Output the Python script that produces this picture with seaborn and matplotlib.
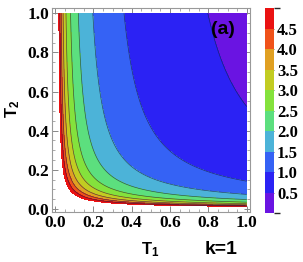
import numpy as np
import matplotlib
matplotlib.use("Agg")
import matplotlib.pyplot as plt
import seaborn as sns
from matplotlib.colors import ListedColormap, BoundaryNorm

# ---- data ----
levels = [0.0, 0.5, 1.0, 1.5, 2.0, 2.5, 3.0, 3.5, 4.0, 4.5, 5.0]
band_colors = ["#6a14e2", "#2b22f4", "#3562f5", "#4cb3d8", "#5cdf7e",
               "#84e23c", "#c2cc22", "#e0a022", "#f0521a", "#ea1212"]
x_ticks = [0.0, 0.2, 0.4, 0.6, 0.8, 1.0]
y_ticks = [0.0, 0.2, 0.4, 0.6, 0.8, 1.0]
cbar_ticks = [0.5, 1.0, 1.5, 2.0, 2.5, 3.0, 3.5, 4.0, 4.5]
off_d, amp_c, exp_t1, amp_e, exp_t2 = -0.835, 1.219, 0.4, 0.152, 0.75

sns.set_theme(style="ticks")
plt.rcParams["font.family"] = ["Liberation Serif", "DejaVu Serif"]
plt.rcParams["text.color"] = "black"
plt.rcParams["mathtext.fontset"] = "custom"
plt.rcParams["mathtext.bf"] = "Liberation Sans:bold"
plt.rcParams["mathtext.rm"] = "Liberation Sans:bold"
plt.rcParams["mathtext.it"] = "Liberation Sans:bold"

t1 = np.unique(np.concatenate([np.geomspace(0.002, 0.12, 300), np.linspace(0.12, 1.0, 400)]))
t2 = np.unique(np.concatenate([np.geomspace(0.002, 0.12, 300), np.linspace(0.12, 1.0, 400)]))
T1, T2 = np.meshgrid(t1, t2)
F = off_d + amp_c * T1 ** (-exp_t1) * (1 + amp_e * (T2 ** (-exp_t2) - 1))

fig = plt.figure(figsize=(3.03, 2.62), dpi=100)
ax = fig.add_axes([0.1716, 0.1897, 0.6535, 0.7786])
cax = fig.add_axes([0.8746, 0.1859, 0.0307, 0.7824])

cmap = ListedColormap(band_colors)
norm = BoundaryNorm(levels, cmap.N)
cs = ax.contourf(T1, T2, F, levels=levels, cmap=cmap, norm=norm)
ax.contour(T1, T2, F, levels=levels[1:-1], colors="#1a1a40", linewidths=0.5, alpha=0.7)

ax.set_xlim(-0.016, 1.017)
ax.set_ylim(-0.017, 1.025)
ax.set_xticks(x_ticks)
ax.set_yticks(y_ticks)
ax.set_xticklabels([f"{v:.1f}" for v in x_ticks], fontweight="bold", fontsize=12.5)
ax.set_yticklabels([f"{v:.1f}" for v in y_ticks], fontweight="bold", fontsize=12.5)
ax.set_xticks(np.arange(0, 1.0001, 0.05), minor=True)
ax.set_yticks(np.arange(0, 1.0001, 0.05), minor=True)
ax.tick_params(which="both", direction="in", top=True, right=True, color="#888888",
               labelcolor="black", pad=2)
ax.tick_params(which="major", length=4, width=0.7)
ax.tick_params(which="minor", length=2, width=0.5)
for sp in ax.spines.values():
    sp.set_color("#999999")
    sp.set_linewidth(0.8)

sans = ["Liberation Sans", "DejaVu Sans"]
ax.set_xlabel("")
ax.set_ylabel("")
fig.text(150 / 303, 1 - 250 / 262, r"$\mathbf{T_1}$", ha="center", va="center",
         fontsize=12, family=sans, color="black")
fig.text(13 / 303, 1 - 109 / 262, r"$\mathbf{T_2}$", ha="center", va="center",
         rotation=90, fontsize=12, family=sans, color="black")
fig.text(221 / 303, 1 - 250 / 262, "k=1", ha="center", va="center",
         fontsize=14, fontweight="bold", family=sans, color="black")
ax.text(0.875, 0.915, "(a)", ha="center", va="center", fontsize=14,
        fontweight="bold", family=sans, color="black", transform=ax.transData)

cb = fig.colorbar(cs, cax=cax, ticks=cbar_ticks)
cb.outline.set_visible(False)
cb.ax.set_yticklabels([f"{v:.1f}" for v in cbar_ticks], fontweight="bold", fontsize=12)
cb.ax.tick_params(direction="in", length=4, width=0.6, color="#555555",
                  labelcolor="black", pad=2)

fig.savefig("out.png", dpi=100)
